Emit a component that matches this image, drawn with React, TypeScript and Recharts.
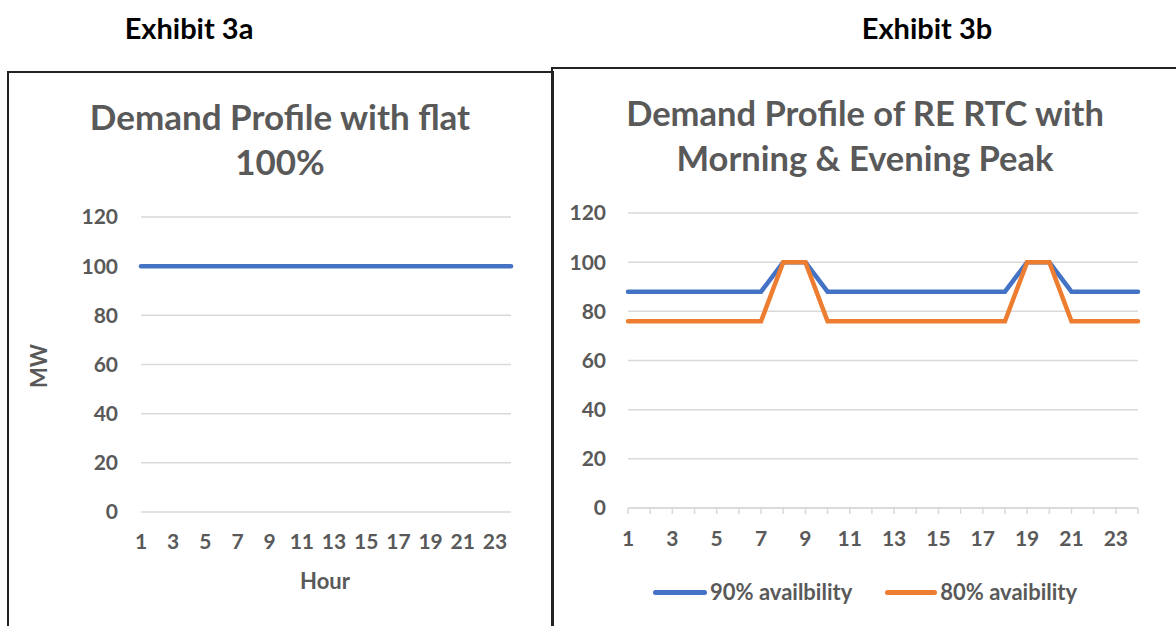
import { LineChart, Line, XAxis, YAxis, CartesianGrid } from 'recharts';

const hours = [1, 2, 3, 4, 5, 6, 7, 8, 9, 10, 11, 12, 13, 14, 15, 16, 17, 18, 19, 20, 21, 22, 23, 24];
const flatDemand = [100, 100, 100, 100, 100, 100, 100, 100, 100, 100, 100, 100, 100, 100, 100, 100, 100, 100, 100, 100, 100, 100, 100, 100];
const avail90 = [88, 88, 88, 88, 88, 88, 88, 100, 100, 88, 88, 88, 88, 88, 88, 88, 88, 88, 100, 100, 88, 88, 88, 88];
const avail80 = [76, 76, 76, 76, 76, 76, 76, 100, 100, 76, 76, 76, 76, 76, 76, 76, 76, 76, 100, 100, 76, 76, 76, 76];
const yTicks = [0, 20, 40, 60, 80, 100, 120];

const leftData = hours.map((h, i) => ({ hour: h, mw: flatDemand[i] }));
const rightData = hours.map((h, i) => ({ hour: h, a90: avail90[i], a80: avail80[i] }));

const FONT = "Lato, 'Open Sans', sans-serif";
const GREY = '#595959';
const BLUE = '#4472C4';
const ORANGE = '#ED7D31';
const GRID = '#d9d9d9';

const tickStyle = { fill: GREY, fontSize: 21, fontWeight: 700, fontFamily: FONT };
const oddOnly = (v: number) => (v % 2 === 1 ? String(v) : '');

const txt = (extra: React.CSSProperties): React.CSSProperties => ({
  position: 'absolute',
  fontFamily: FONT,
  fontWeight: 700,
  color: GREY,
  whiteSpace: 'nowrap',
  ...extra,
});

export default function App() {
  return (
    <div style={{ position: 'absolute', left: 0, top: 0, width: 1176, height: 626, overflow: 'hidden', background: '#fff' }}>
      <div style={txt({ left: 0, width: 378, top: 10, textAlign: 'center', fontSize: 29, color: '#000', lineHeight: '36px' })}>Exhibit 3a</div>
      <div style={txt({ left: 742, width: 370, top: 10, textAlign: 'center', fontSize: 29, color: '#000', lineHeight: '36px' })}>Exhibit 3b</div>

      {/* panel borders */}
      <div style={{ position: 'absolute', left: 7, top: 71, width: 543, height: 600, border: '2px solid #222', borderBottom: 'none' }} />
      <div style={{ position: 'absolute', left: 551, top: 67, width: 700, height: 600, border: '2px solid #222', borderBottom: 'none' }} />

      {/* left chart */}
      <div style={txt({ left: 9, width: 542, top: 94, textAlign: 'center', fontSize: 35, lineHeight: '45px' })}>
        Demand Profile with flat
        <br />
        100%
      </div>
      <div style={{ position: 'absolute', left: 9, top: 73 }}>
        <LineChart width={542} height={553} data={leftData} margin={{ top: 144, right: 40, bottom: 84, left: 72 }}>
          <CartesianGrid vertical={false} stroke={GRID} strokeWidth={1.5} />
          <XAxis dataKey="hour" interval={0} axisLine={false} tickLine={false} tickMargin={16} height={30} tick={tickStyle} tickFormatter={oddOnly} />
          <YAxis domain={[0, 120]} ticks={yTicks} axisLine={false} tickLine={false} tickMargin={17} width={60} tick={tickStyle} />
          <Line dataKey="mw" stroke={BLUE} strokeWidth={4.5} dot={false} isAnimationActive={false} strokeLinecap="round" />
        </LineChart>
      </div>
      <div style={txt({ left: 260, width: 130, top: 567, textAlign: 'center', fontSize: 22 })}>Hour</div>
      <div style={txt({ left: 38, top: 366, fontSize: 22, transform: 'translate(-50%, -50%) rotate(-90deg)' })}>MW</div>

      {/* right chart */}
      <div style={txt({ left: 553, width: 624, top: 90, textAlign: 'center', fontSize: 34.5, lineHeight: '45px' })}>
        Demand Profile of RE RTC with
        <br />
        Morning &amp; Evening Peak
      </div>
      <div style={{ position: 'absolute', left: 553, top: 69 }}>
        <LineChart width={623} height={557} data={rightData} margin={{ top: 144, right: 38, bottom: 88, left: 15 }}>
          <CartesianGrid vertical={false} stroke={GRID} strokeWidth={1.5} />
          <XAxis dataKey="hour" interval={0} axisLine={{ stroke: GRID, strokeWidth: 1.5 }} tickLine={{ stroke: GRID, strokeWidth: 1.5 }} tickSize={6} tickMargin={17} height={30} tick={tickStyle} tickFormatter={oddOnly} />
          <YAxis domain={[0, 120]} ticks={yTicks} axisLine={false} tickLine={false} tickMargin={16} width={60} tick={tickStyle} />
          <Line dataKey="a90" name="90% availbility" stroke={BLUE} strokeWidth={4.5} dot={false} isAnimationActive={false} strokeLinecap="round" />
          <Line dataKey="a80" name="80% avaibility" stroke={ORANGE} strokeWidth={4.5} dot={false} isAnimationActive={false} strokeLinecap="round" />
        </LineChart>
      </div>

      {/* legend */}
      <div style={txt({ left: 653, top: 578, fontSize: 22, lineHeight: '28px', display: 'flex', alignItems: 'center' })}>
        <span style={{ display: 'inline-block', width: 54, height: 5, borderRadius: 3, background: BLUE, marginRight: 3 }} />
        <span>90% availbility</span>
        <span style={{ display: 'inline-block', width: 52, height: 5, borderRadius: 3, background: ORANGE, marginLeft: 33, marginRight: 3 }} />
        <span>80% avaibility</span>
      </div>
    </div>
  );
}
